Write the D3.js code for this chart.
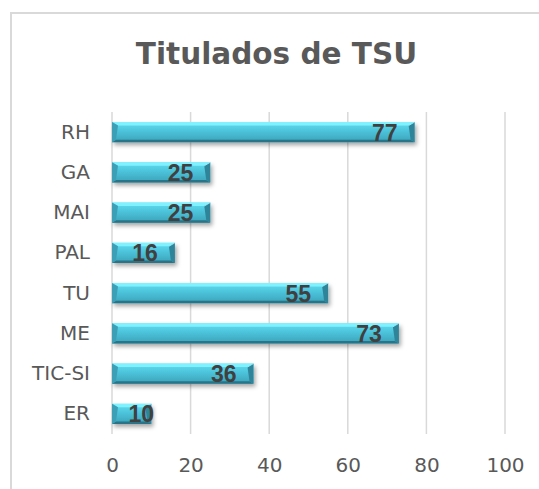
<!DOCTYPE html>
<html><head><meta charset="utf-8">
<script src="https://cdn.jsdelivr.net/npm/d3@7"></script>
<style>body{margin:0;background:#fff}svg{display:block}</style>
</head><body>
<svg id="c" width="539" height="489"></svg>
<script>
const title = "Titulados de TSU";
const categories = ["RH","GA","MAI","PAL","TU","ME","TIC-SI","ER"];
const values = [77,25,25,16,55,73,36,10];
const xTicks = [0,20,40,60,80,100];

const svg = d3.select("#c");
const W = 539, H = 489;
const m = {left:112, right:505, top:112, bottom:434};

const defs = svg.append("defs");
const g1 = defs.append("linearGradient").attr("id","body").attr("x1",0).attr("y1",0).attr("x2",0).attr("y2",1);
g1.append("stop").attr("offset","0%").attr("stop-color","#62def2");
g1.append("stop").attr("offset","45%").attr("stop-color","#4cc3da");
g1.append("stop").attr("offset","100%").attr("stop-color","#3aa2b9");
const f = defs.append("filter").attr("id","sh").attr("x","-10%").attr("y","-40%").attr("width","130%").attr("height","200%");
f.append("feDropShadow").attr("dx",2).attr("dy",3).attr("stdDeviation",2).attr("flood-color","#000").attr("flood-opacity",0.35);

// outer border
svg.append("rect").attr("x",11).attr("y",13).attr("width",W).attr("height",H)
  .attr("fill","#fff").attr("stroke","#d9d9d9").attr("stroke-width",2);

svg.append("text").attr("x",276.5).attr("y",64).attr("text-anchor","middle")
  .attr("font-family","DejaVu Sans").attr("font-weight","bold").attr("font-size",29.5)
  .attr("fill","#595959").text(title);

const x = d3.scaleLinear().domain([0,100]).range([m.left,m.right]);
const y = d3.scaleBand().domain(categories).range([m.top,m.bottom]).paddingInner(0.5).paddingOuter(0.25);

// gridlines
svg.append("g").selectAll("line").data(xTicks).join("line")
  .attr("x1",d=>x(d)).attr("x2",d=>x(d)).attr("y1",m.top).attr("y2",m.bottom)
  .attr("stroke","#d9d9d9").attr("stroke-width",1.5);

// x axis labels
const xAxis = svg.append("g").attr("transform",`translate(0,${m.bottom})`)
  .call(d3.axisBottom(x).tickValues(xTicks).tickSize(0).tickPadding(24));
xAxis.select(".domain").remove();
xAxis.selectAll("text").attr("font-family","DejaVu Sans").attr("font-size",20).attr("fill","#595959");

// y axis labels
const yAxis = svg.append("g").attr("transform",`translate(${m.left},0)`)
  .call(d3.axisLeft(y).tickSize(0).tickPadding(22));
yAxis.select(".domain").remove();
yAxis.selectAll("text").attr("font-family","DejaVu Sans").attr("font-size",20).attr("fill","#595959");

// bars
const bars = svg.append("g").selectAll("g").data(categories).join("g");
bars.each(function(c,i){
  const gg = d3.select(this);
  const x0 = x(0), x1 = x(values[i]), y0 = y(c), h = y.bandwidth(), y1 = y0 + h;
  const b = 4, bv = 3.5;
  gg.append("rect").attr("x",x0).attr("y",y0).attr("width",x1-x0).attr("height",h)
    .attr("fill","url(#body)").attr("filter","url(#sh)");
  // top bevel
  gg.append("polygon").attr("points",[[x0,y0],[x1,y0],[x1-b*1.5,y0+bv],[x0+b*1.5,y0+bv]].join(" "))
    .attr("fill","#80f1ff");
  // bottom bevel
  gg.append("polygon").attr("points",[[x0,y1],[x1,y1],[x1-b,y1-2.5],[x0+b,y1-2.5]].join(" "))
    .attr("fill","#2b7487");
  // left bevel
  gg.append("polygon").attr("points",[[x0,y0],[x0+b*1.5,y0+bv],[x0+b,y1-2.5],[x0,y1]].join(" "))
    .attr("fill","#3c9fb6");
  // right bevel
  gg.append("polygon").attr("points",[[x1,y0],[x1-b*1.5,y0+bv],[x1-b,y1-2.5],[x1,y1]].join(" "))
    .attr("fill","#2f8499");
  gg.append("path").attr("d",`M${x1-b*1.5},${y0+bv}L${x1},${y0}`).attr("stroke","#a5f7ff").attr("stroke-width",0.8);
  gg.append("text")
    .attr("x", Math.max(x1-17, x0+42)).attr("y", y0+h/2+8.5)
    .attr("text-anchor","end").attr("font-family","Liberation Sans").attr("font-weight","bold")
    .attr("font-size",23).attr("fill","#404040").text(values[i]);
});
</script>
</body></html>
